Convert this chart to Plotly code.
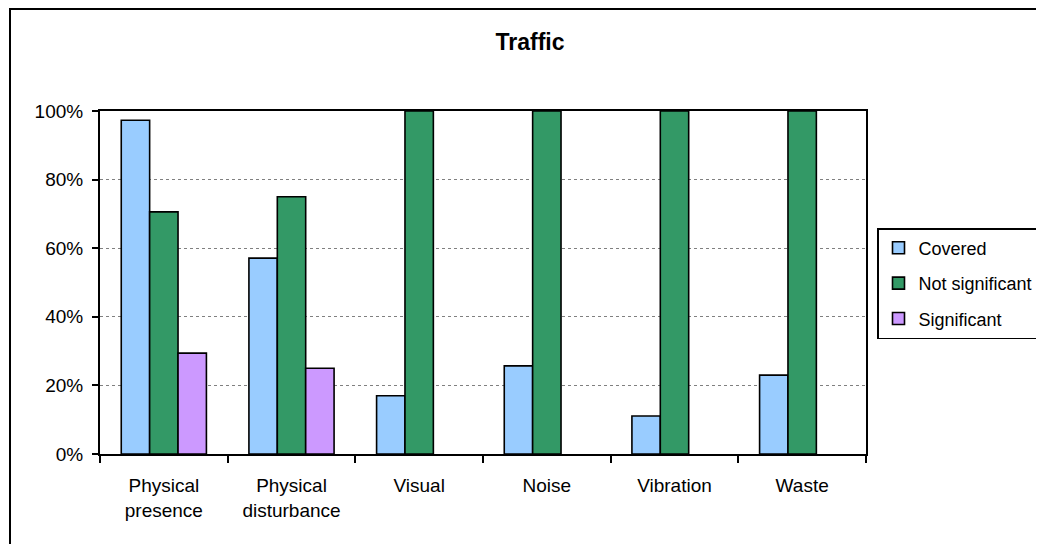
import plotly.graph_objects as go

categories = ["Physical<br>presence", "Physical<br>disturbance", "Visual", "Noise", "Vibration", "Waste"]
covered = [0.973, 0.571, 0.170, 0.257, 0.111, 0.230]
not_significant = [0.706, 0.75, 1.0, 1.0, 1.0, 1.0]
significant = [0.294, 0.25, None, None, None, None]

series = [
    ("Covered", covered, "#99CCFF"),
    ("Not significant", not_significant, "#339966"),
    ("Significant", significant, "#CC99FF"),
]

FONT = "Liberation Sans, Arial, sans-serif"

fig = go.Figure()
for i, (name, vals, col) in enumerate(series):
    fig.add_trace(go.Bar(
        x=categories, y=vals, name=name,
        marker=dict(color=col, line=dict(color="black", width=1.6)),
        legendgroup=f"g{i}",
    ))

OFF = 8  # page body margin
W, H = 1036, 536
L, R, T, B = 100 - OFF, 178, 111 - OFF, 90
pw = W - L - R
ph = H - T - B

def px_x(x):
    return (x - OFF - L) / pw

def px_y(y):
    return (H - B - (y - OFF)) / ph

fig.add_shape(type="rect", xref="paper", yref="paper",
              x0=px_x(10), x1=px_x(1060), y0=px_y(570), y1=px_y(9),
              line=dict(color="black", width=2), fillcolor="rgba(0,0,0,0)", layer="above")

fig.update_layout(
    width=W, height=H,
    margin=dict(l=L, r=R, t=T, b=B, autoexpand=False),
    paper_bgcolor="white", plot_bgcolor="white",
    barmode="group", bargap=0.333, bargroupgap=0,
    font=dict(family=FONT, color="black", size=19),
    title=dict(text="<b>Traffic</b>", x=(530 - OFF) / W, xanchor="center",
               y=1 - (42 - OFF) / H, yanchor="middle",
               font=dict(family=FONT, size=23, color="black")),
    legend=dict(
        x=px_x(877), y=px_y(228), xanchor="left", yanchor="top",
        bordercolor="black", borderwidth=1.5, bgcolor="white",
        font=dict(family=FONT, size=18, color="black"),
        traceorder="grouped", tracegroupgap=9, itemwidth=30,
    ),
    showlegend=True,
)

fig.update_yaxes(
    range=[0, 1], dtick=0.2, tickformat=".0%",
    showgrid=True, gridcolor="#808080", griddash="dot", gridwidth=1,
    showline=True, linecolor="black", linewidth=2, mirror=True,
    ticks="outside", ticklen=6, tickwidth=2, tickcolor="black",
    ticklabelstandoff=5, zeroline=False,
    tickfont=dict(family=FONT, size=19, color="black"),
)
fig.update_xaxes(
    showline=True, linecolor="black", linewidth=2, mirror=True,
    ticks="outside", tickson="boundaries", ticklen=7, tickwidth=2, tickcolor="black",
    ticklabelstandoff=13,
    tickfont=dict(family=FONT, size=19, color="black"),
)

fig.write_html("out.html")
